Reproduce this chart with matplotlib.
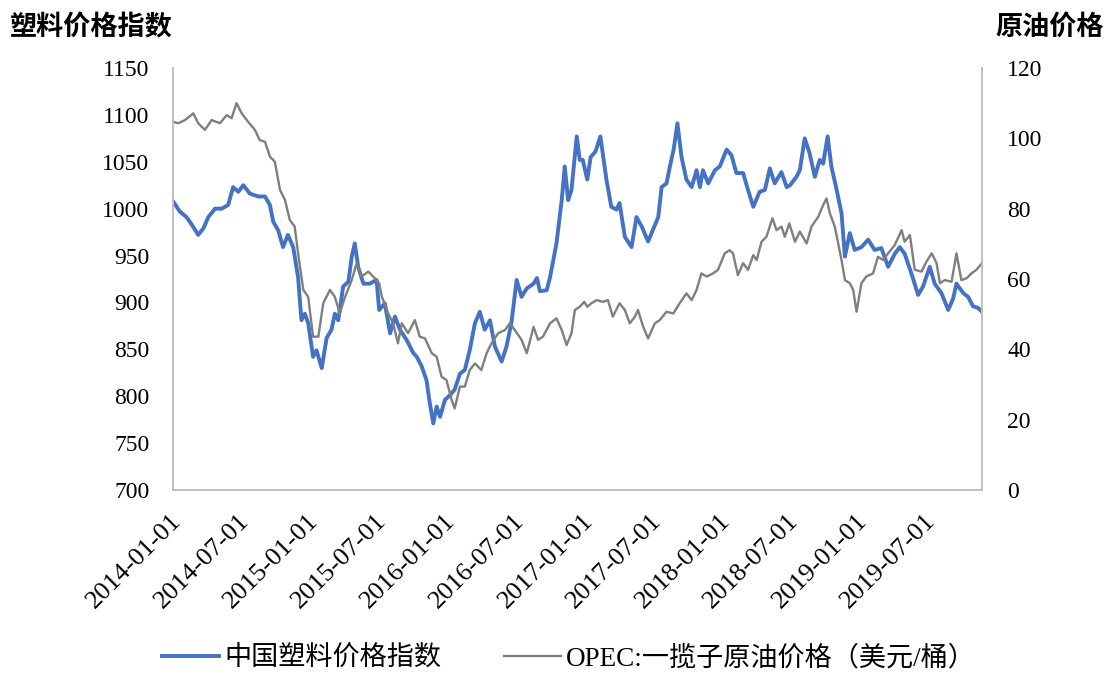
import matplotlib
matplotlib.use("Agg")
import matplotlib.pyplot as plt
import matplotlib.transforms as mtransforms
import pandas as pd

# ---- data ----
plastic_dates = [
    "2014-01-01", "2014-01-19", "2014-02-06", "2014-02-20", "2014-03-09", "2014-03-23",
    "2014-04-05", "2014-04-23", "2014-05-11", "2014-05-28", "2014-06-10", "2014-06-24",
    "2014-07-07", "2014-07-25", "2014-08-16", "2014-09-03", "2014-09-16", "2014-09-25",
    "2014-10-08", "2014-10-21", "2014-11-03", "2014-11-17", "2014-11-30", "2014-12-09",
    "2014-12-18", "2014-12-27", "2015-01-09", "2015-01-18", "2015-02-01", "2015-02-14",
    "2015-02-27", "2015-03-08", "2015-03-17", "2015-03-30", "2015-04-13", "2015-04-22",
    "2015-04-30", "2015-05-09", "2015-05-23", "2015-06-09", "2015-06-27", "2015-07-04",
    "2015-07-19", "2015-08-02", "2015-08-15", "2015-08-28", "2015-09-15", "2015-10-03",
    "2015-10-12", "2015-10-25", "2015-11-07", "2015-11-16", "2015-11-25", "2015-12-04",
    "2015-12-13", "2015-12-26", "2016-01-08", "2016-01-21", "2016-02-04", "2016-02-17",
    "2016-03-01", "2016-03-15", "2016-03-28", "2016-04-10", "2016-04-24", "2016-05-07",
    "2016-05-25", "2016-06-07", "2016-06-20", "2016-07-04", "2016-07-17", "2016-07-31",
    "2016-08-18", "2016-08-27", "2016-09-04", "2016-09-22", "2016-10-01", "2016-10-18",
    "2016-11-01", "2016-11-09", "2016-11-18", "2016-11-27", "2016-12-11", "2016-12-19",
    "2016-12-27", "2017-01-08", "2017-01-17", "2017-01-30", "2017-02-12", "2017-02-28",
    "2017-03-13", "2017-03-27", "2017-04-04", "2017-04-18", "2017-05-06", "2017-05-19",
    "2017-06-02", "2017-06-19", "2017-07-16", "2017-07-25", "2017-08-07", "2017-08-16",
    "2017-08-26", "2017-09-05", "2017-09-16", "2017-09-29", "2017-10-13", "2017-10-26",
    "2017-11-04", "2017-11-12", "2017-11-26", "2017-12-14", "2017-12-27", "2018-01-14",
    "2018-01-27", "2018-02-09", "2018-02-27", "2018-03-12", "2018-03-26", "2018-04-12",
    "2018-04-26", "2018-05-09", "2018-05-22", "2018-06-09", "2018-06-23", "2018-07-02",
    "2018-07-19", "2018-07-28", "2018-08-10", "2018-08-23", "2018-09-06", "2018-09-19",
    "2018-09-28", "2018-10-10", "2018-10-20", "2018-11-03", "2018-11-16", "2018-11-25",
    "2018-12-08", "2018-12-21", "2019-01-08", "2019-01-26", "2019-02-12", "2019-03-02",
    "2019-03-20", "2019-04-07", "2019-04-20", "2019-05-03", "2019-05-21", "2019-06-08",
    "2019-06-21", "2019-07-09", "2019-07-22", "2019-08-09", "2019-08-27", "2019-09-09",
    "2019-09-18", "2019-10-06", "2019-10-19", "2019-11-01", "2019-11-15", "2019-11-25",
]
plastic_index = [
    1008, 997, 991, 983, 972, 979,
    991, 1000, 1000, 1004, 1023, 1018,
    1025, 1016, 1013, 1013, 1004, 986,
    977, 959, 972, 959, 927, 881,
    888, 878, 842, 849, 830, 862,
    871, 888, 881, 917, 922, 949,
    963, 938, 920, 920, 924, 892,
    899, 867, 885, 871, 860, 846,
    842, 832, 817, 792, 771, 789,
    778, 796, 801, 807, 824, 828,
    849, 878, 890, 871, 881, 853,
    837, 853, 878, 924, 906, 915,
    920, 926, 912, 913, 927, 963,
    1009, 1045, 1009, 1020, 1077, 1052,
    1052, 1031, 1055, 1061, 1077, 1031,
    1002, 999, 1006, 970, 959, 991,
    981, 965, 991, 1023, 1027, 1045,
    1063, 1091, 1055, 1031, 1023, 1041,
    1023, 1041, 1027, 1041, 1045, 1063,
    1057, 1038, 1038, 1020, 1002, 1018,
    1020, 1043, 1027, 1039, 1023, 1025,
    1034, 1041, 1075, 1059, 1034, 1052,
    1048, 1077, 1045, 1020, 995, 949,
    974, 956, 959, 967, 956, 958,
    938, 952, 959, 952, 931, 908,
    917, 938, 920, 910, 892, 904,
    920, 910, 906, 896, 894, 890,
]

oil_dates = [
    "2014-01-01", "2014-01-15", "2014-02-02", "2014-02-24", "2014-03-09", "2014-03-27",
    "2014-04-14", "2014-05-06", "2014-05-24", "2014-06-06", "2014-06-19", "2014-07-03",
    "2014-07-20", "2014-08-07", "2014-08-20", "2014-09-03", "2014-09-16", "2014-09-29",
    "2014-10-13", "2014-10-26", "2014-11-08", "2014-11-21", "2014-11-30", "2014-12-14",
    "2014-12-27", "2015-01-09", "2015-01-23", "2015-02-05", "2015-02-23", "2015-03-08",
    "2015-03-21", "2015-04-04", "2015-04-22", "2015-05-05", "2015-05-18", "2015-06-05",
    "2015-06-18", "2015-07-04", "2015-07-11", "2015-07-28", "2015-08-10", "2015-08-23",
    "2015-09-02", "2015-09-19", "2015-10-07", "2015-10-20", "2015-11-03", "2015-11-21",
    "2015-12-04", "2015-12-17", "2015-12-30", "2016-01-13", "2016-01-21", "2016-02-04",
    "2016-02-17", "2016-03-01", "2016-03-15", "2016-04-01", "2016-04-15", "2016-04-28",
    "2016-05-16", "2016-06-03", "2016-06-16", "2016-06-29", "2016-07-17", "2016-07-31",
    "2016-08-18", "2016-08-30", "2016-09-12", "2016-10-01", "2016-10-18", "2016-11-01",
    "2016-11-14", "2016-11-27", "2016-12-06", "2016-12-19", "2016-12-31", "2017-01-08",
    "2017-01-19", "2017-02-02", "2017-02-19", "2017-03-04", "2017-03-17", "2017-04-04",
    "2017-04-18", "2017-05-01", "2017-05-15", "2017-05-23", "2017-06-06", "2017-06-19",
    "2017-07-07", "2017-07-20", "2017-08-07", "2017-08-25", "2017-09-11", "2017-09-29",
    "2017-10-13", "2017-10-26", "2017-11-08", "2017-11-22", "2017-12-09", "2017-12-22",
    "2018-01-09", "2018-01-22", "2018-01-31", "2018-02-13", "2018-02-27", "2018-03-12",
    "2018-03-26", "2018-04-04", "2018-04-17", "2018-04-30", "2018-05-16", "2018-05-27",
    "2018-06-09", "2018-06-18", "2018-06-30", "2018-07-15", "2018-07-28", "2018-08-15",
    "2018-08-28", "2018-09-15", "2018-09-28", "2018-10-07", "2018-10-16", "2018-10-29",
    "2018-11-07", "2018-11-16", "2018-11-25", "2018-12-08", "2018-12-17", "2018-12-26",
    "2019-01-08", "2019-01-21", "2019-02-08", "2019-02-21", "2019-03-07", "2019-03-20",
    "2019-04-07", "2019-04-25", "2019-05-03", "2019-05-17", "2019-05-30", "2019-06-17",
    "2019-06-30", "2019-07-14", "2019-07-27", "2019-08-05", "2019-08-18", "2019-09-05",
    "2019-09-18", "2019-10-01", "2019-10-15", "2019-10-28", "2019-11-10", "2019-11-25",
]
oil_price = [
    104.7, 104.3, 105.2, 107.1, 104.3, 102.4,
    105.2, 104.3, 106.6, 105.7, 110.0, 107.1,
    104.7, 102.4, 99.5, 99.0, 94.8, 93.4,
    85.3, 82.5, 76.8, 74.9, 67.3, 56.9,
    54.9, 43.6, 43.6, 53.1, 56.9, 54.9,
    50.2, 54.9, 59.7, 64.5, 60.7, 62.1,
    60.7, 58.8, 55.0, 50.2, 47.4, 41.7,
    47.4, 44.6, 48.3, 43.6, 43.1, 38.9,
    37.9, 32.2, 31.3, 25.6, 23.2, 29.4,
    29.4, 34.1, 36.0, 34.1, 38.9, 41.7,
    44.6, 45.5, 47.4, 45.5, 42.7, 38.9,
    46.4, 42.7, 43.6, 47.4, 48.8, 45.5,
    41.2, 44.6, 51.2, 52.1, 53.5, 52.1,
    53.1, 54.0, 53.5, 54.0, 49.3, 53.1,
    51.2, 47.4, 49.3, 51.2, 46.4, 43.1,
    47.4, 48.3, 50.7, 50.2, 53.1, 55.9,
    54.0, 56.9, 61.6, 60.7, 61.6, 62.6,
    67.3, 68.2, 67.3, 61.1, 64.5, 62.6,
    66.8, 65.4, 70.6, 72.0, 77.3, 73.9,
    74.9, 72.0, 75.8, 70.6, 73.5, 70.1,
    74.9, 77.7, 81.0, 82.9, 78.7, 74.9,
    70.1, 65.4, 59.7, 58.8, 56.9, 50.7,
    58.8, 60.7, 61.6, 66.3, 65.4, 67.3,
    69.7, 73.9, 70.6, 72.5, 62.6, 62.1,
    64.9, 67.3, 64.5, 58.8, 59.7, 59.2,
    67.3, 59.7, 60.2, 61.6, 62.6, 64.5,
]

x_ticks = ["2014-01-01", "2014-07-01", "2015-01-01", "2015-07-01", "2016-01-01",
           "2016-07-01", "2017-01-01", "2017-07-01", "2018-01-01", "2018-07-01",
           "2019-01-01", "2019-07-01"]
left_ticks = [700, 750, 800, 850, 900, 950, 1000, 1050, 1100, 1150]
right_ticks = [0, 20, 40, 60, 80, 100, 120]

series_names = ["中国塑料价格指数", "OPEC:一揽子原油价格（美元/桶）"]

# ---- style ----
SERIF = ["Liberation Serif", "Noto Sans CJK SC", "DejaVu Sans"]
CJK = ["Noto Sans CJK SC", "DejaVu Sans"]
plt.rcParams["font.family"] = SERIF
BLUE = "#4472C4"
GREY = "#7F7F7F"
SPINE = "#BFBFBF"

fig = plt.figure(figsize=(11.11, 6.73), dpi=100)
ax = fig.add_axes([173/1111, 1-490/673, (982-173)/1111, (490-68)/673])
ax2 = ax.twinx()

pdates = pd.to_datetime(plastic_dates)
odates = pd.to_datetime(oil_dates)

l1, = ax.plot(pdates, plastic_index, color=BLUE, lw=2.8, solid_joinstyle="round")
l2, = ax2.plot(odates, oil_price, color=GREY, lw=1.7, solid_joinstyle="round")

ax.set_ylim(700, 1150)
ax2.set_ylim(0, 120)
ax.set_yticks(left_ticks)
ax2.set_yticks(right_ticks)
ax.set_xlim(pd.Timestamp("2014-01-01"), pd.Timestamp("2019-11-25"))
ax.set_xticks(pd.to_datetime(x_ticks))
ax.set_xticklabels(x_ticks)

for a in (ax, ax2):
    a.spines["top"].set_visible(False)
    for s in ("left", "right", "bottom"):
        a.spines[s].set_color(SPINE)
        a.spines[s].set_linewidth(1.3)

ax.tick_params(axis="y", length=0, pad=17, labelsize=17)
ax2.tick_params(axis="y", length=0, pad=18, labelsize=17)
ax.tick_params(axis="x", length=0, pad=20, labelsize=19)
shift = mtransforms.ScaledTranslation(5/100, 0, fig.dpi_scale_trans)
for lab in ax.get_xticklabels():
    lab.set_rotation(45)
    lab.set_ha("right")
    lab.set_va("center")
    lab.set_rotation_mode("anchor")
    lab.set_transform(lab.get_transform() + shift)

fig.text(10/1111, 1-27/673, "塑料价格指数", family=CJK, fontweight="bold",
         fontsize=19.5, va="center", ha="left")
fig.text(995/1111, 1-27/673, "原油价格", family=CJK, fontweight="bold",
         fontsize=19.5, va="center", ha="left")

leg = fig.legend([l1, l2], series_names, loc="center",
                 bbox_to_anchor=(569/1111, 1-659/673), ncol=2, frameon=False,
                 prop={"family": SERIF, "size": 19.5}, handlelength=2.1,
                 columnspacing=2.3, handletextpad=0.2)

fig.savefig("out.png", dpi=100)
